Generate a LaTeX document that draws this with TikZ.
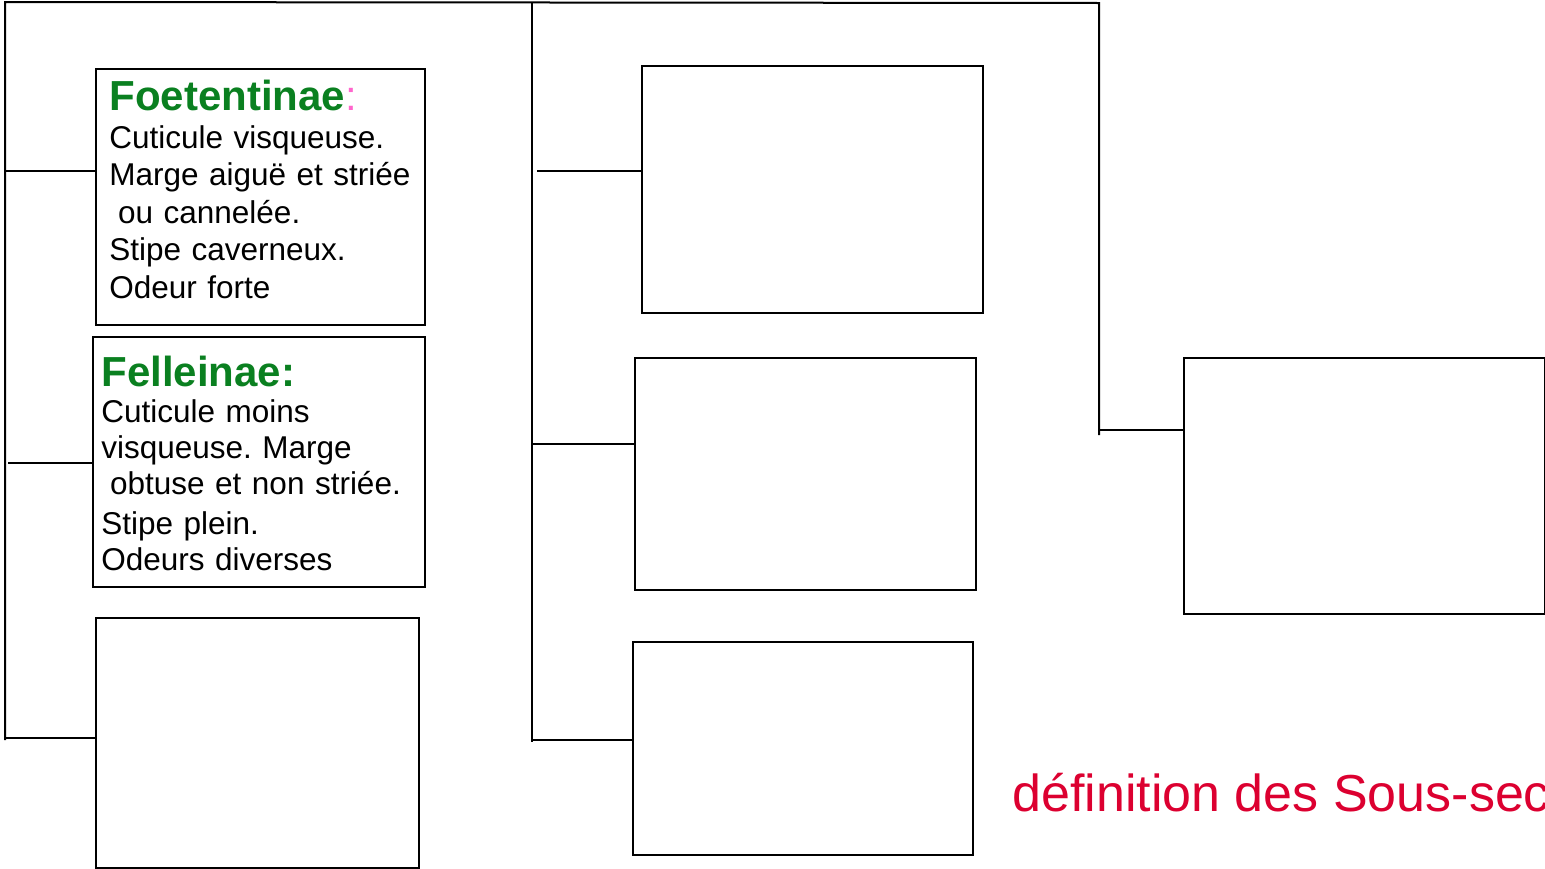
\documentclass[tikz,border=0pt]{standalone}
\usepackage{fontspec}
\setmainfont{Liberation Sans}
\setsansfont{Liberation Sans}
\usepackage{xcolor}
\definecolor{Leaf}{HTML}{0A8020}
\definecolor{Pinky}{HTML}{FF66CC}
\definecolor{Crimson}{HTML}{DC0030}
\usetikzlibrary{positioning}
\frenchspacing
\newcommand\titlefont{\fontsize{21}{25}\selectfont\bfseries\color{Leaf}}

\begin{document}
\begin{tikzpicture}[x=0.5pt,y=-0.5pt,
  font=\sffamily\fontsize{15.75}{18.75}\selectfont,
  tree/.style={line width=1pt,draw=black},
  keybox/.style={draw=black,line width=1pt,inner sep=0pt,anchor=north west},
  keytext/.style={inner sep=0pt,text width=160pt,align=left}
]
\useasboundingbox (0,0) rectangle (1545,868);
\clip (0,0) rectangle (1545,868);

% boxes
\node[keybox,minimum width=164.5pt,minimum height=128pt] (foet) at (95,68) {};
\node[keybox,minimum width=166pt,minimum height=125pt] (fell) at (92,336) {};
\node[keybox,minimum width=161.5pt,minimum height=125pt] (left3) at (95,617) {};
\node[keybox,minimum width=170.5pt,minimum height=123.5pt] (mid1) at (641,65) {};
\node[keybox,minimum width=170.5pt,minimum height=116pt] (mid2) at (634,357) {};
\node[keybox,minimum width=170pt,minimum height=106.5pt] (mid3) at (632,641) {};
\node[keybox,minimum width=180.5pt,minimum height=128pt] (right1) at (1183,357) {};

% texts
\node[keytext,below right=6pt and 7pt of foet.north west] (foettext)
  {{\titlefont Foetentinae\textcolor{Pinky}{\mdseries:}}\\
   Cuticule visqueuse.\\
   Marge aiguë et striée\\
   \hspace*{0.278em}ou cannelée.\\
   Stipe caverneux.\\
   Odeur forte};
\node[keytext,font=\sffamily\fontsize{15.75}{18}\selectfont,
  below right=10pt and 4.5pt of fell.north west] (felltext)
  {{\titlefont Felleinae:}\\
   Cuticule moins\\
   visqueuse. Marge\\
   \hspace*{0.278em}obtuse et non striée.\\[2pt]
   Stipe plein.\\
   Odeurs diverses};
\node[inner sep=0pt,anchor=base west,text=Crimson,font=\sffamily\fontsize{26}{30}\selectfont]
  (caption) at (1012,811) {définition des Sous-sec};

% tree
\coordinate (rootL) at (5,2);
\coordinate (rootM) at (532,2);
\coordinate (rootR) at (1099,3);
\coordinate (endL) at (5,740);
\coordinate (endM) at (532,742);
\coordinate (endR) at (1099,435);
\draw[tree] (endL) -- (rootL) -- (rootR) -- (endR);
\draw[tree] (rootM) -- (endM);

\coordinate (jL1) at (5,171);
\coordinate (jL2) at (8,463);
\coordinate (jL3) at (5,738);
\coordinate (jM1) at (537,171);
\coordinate (jM2) at (532,444);
\coordinate (jM3) at (532,740);
\coordinate (jR1) at (1099,430);
\draw[tree] (jL1) -- (jL1 -| foet.west);
\draw[tree] (jL2) -- (jL2 -| fell.west);
\draw[tree] (jL3) -- (jL3 -| left3.west);
\draw[tree] (jM1) -- (jM1 -| mid1.west);
\draw[tree] (jM2) -- (jM2 -| mid2.west);
\draw[tree] (jM3) -- (jM3 -| mid3.west);
\draw[tree] (jR1) -- (jR1 -| right1.west);
\end{tikzpicture}
\end{document}
